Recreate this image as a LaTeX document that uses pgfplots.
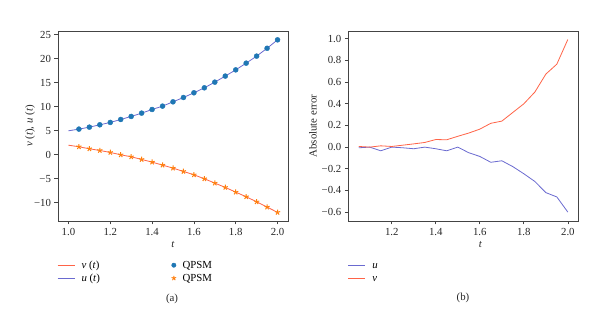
\documentclass[border=0pt]{standalone}
\usepackage{pgfplots}
\pgfplotsset{compat=1.18}
\usepackage{fontspec}
\setmainfont{Liberation Serif}
\definecolor{ublue}{HTML}{6A6AD0}
\definecolor{vred}{HTML}{FF6347}
\definecolor{mblue}{HTML}{1F77B4}
\definecolor{morange}{HTML}{FF7F0E}
\definecolor{axgray}{HTML}{444444}

\pgfplotstableread{
t u v
1.00 5.00 2.00
1.05 5.35 1.67
1.10 5.76 1.25
1.15 6.25 0.90
1.20 6.74 0.49
1.25 7.36 0.00
1.30 7.99 -0.42
1.35 8.68 -0.97
1.40 9.44 -1.53
1.45 10.14 -2.15
1.50 11.04 -2.78
1.55 11.94 -3.47
1.60 12.92 -4.17
1.65 13.96 -5.00
1.70 15.14 -5.90
1.75 16.40 -6.80
1.80 17.70 -7.78
1.85 19.10 -8.75
1.90 20.56 -9.80
1.95 22.20 -10.90
2.00 23.96 -12.00
}\soltable

\pgfplotstableread{
t eu ev
1.05 -0.006 0.006
1.10 0.000 0.000
1.15 -0.034 0.012
1.20 0.000 0.006
1.25 -0.006 0.018
1.30 -0.015 0.030
1.35 0.000 0.043
1.40 -0.015 0.070
1.45 -0.034 0.068
1.50 0.000 0.100
1.55 -0.052 0.130
1.60 -0.086 0.166
1.65 -0.140 0.220
1.70 -0.126 0.240
1.75 -0.180 0.320
1.80 -0.246 0.400
1.85 -0.317 0.508
1.90 -0.420 0.674
1.95 -0.460 0.766
2.00 -0.600 0.994
}\errtable

\newcommand\fsz{\fontsize{10.8}{12.5}\selectfont}
\newcommand\lstrut{\vphantom{(}}
\pgfplotsset{
  shortline/.style={legend image code/.code={\draw[##1, line width=1pt] (0pt,0pt) -- (17pt,0pt);}},
  shortmark/.style={legend image code/.code={\draw[##1] plot coordinates {(4pt,0pt)};}},
  base/.style={
    scale only axis, width=230pt, height=190pt, anchor=south west,
    axis line style={draw=axgray, line width=0.8pt},
    tick style={draw=axgray, line width=0.7pt},
    tick align=outside, xtick pos=bottom, ytick pos=left,
    major tick length=3.5pt,
    tick label style={font=\fsz, text=black!85},
    label style={font=\fsz, text=black!85},
    /pgf/number format/assume math mode=true,
    legend style={draw=none, fill=none, inner sep=0pt,
      font=\fsz,
      row sep=1pt,
      nodes={inner sep=1.5pt},
      /tikz/every odd column/.append style={column sep=5pt}},
    legend cell align=left,
    xtick={1.0,1.2,1.4,1.6,1.8,2.0},
    xticklabels={1.0,1.2,1.4,1.6,1.8,2.0},
  },
}

\begin{document}
\begin{tikzpicture}
\path[use as bounding box] (0pt,0pt) rectangle (600pt,324pt);

% (a)
\begin{axis}[base, at={(58pt,103pt)},
  xmin=0.95, xmax=2.05, ymin=-13.8, ymax=25.8,
  ytick={-10,-5,0,5,10,15,20,25},
  yticklabels={−10,−5,0,5,10,15,20,25},
  xlabel={\textit{t}},
  xlabel style={at={(axis description cs:0.5,-0.126)}, anchor=center},
  ylabel={\textit{v} (\textit{t}), \textit{u} (\textit{t})},
  ylabel style={at={(axis description cs:-0.122,0.5)}, anchor=center},
  legend columns=2, transpose legend,
  legend style={at={(axis description cs:-0.005,-0.2)}, anchor=north west,
    /tikz/every even column/.append style={column sep=70pt}},
]
\addplot[ublue, line width=0.8pt, forget plot] table[x=t,y=u] {\soltable};
\addplot[vred, line width=0.8pt, forget plot] table[x=t,y=v] {\soltable};
\addplot[only marks, mark=*, mark size=2.5pt, color=mblue, forget plot]
  table[x=t,y=u, skip coords between index={0}{1}] {\soltable};
\addplot[only marks, mark=star, mark size=2.7pt, color=morange, line width=1pt, forget plot]
  table[x=t,y=v, skip coords between index={0}{1}] {\soltable};
\addlegendimage{color=vred, shortline}
\addlegendentry{\textit{v} (\textit{t})}
\addlegendimage{color=ublue, shortline}
\addlegendentry{\textit{u} (\textit{t})}
\addlegendimage{only marks, mark=*, mark size=2.2pt, color=mblue, shortmark}
\addlegendentry{QPSM\lstrut}
\addlegendimage{only marks, mark=star, mark size=2.4pt, color=morange, line width=0.9pt, shortmark}
\addlegendentry{QPSM\lstrut}
\end{axis}

% (b)
\begin{axis}[base, at={(348.3pt,103pt)},
  xmin=1.0025, xmax=2.0475, ymin=-0.682, ymax=1.072,
  ytick={-0.6,-0.4,-0.2,0,0.2,0.4,0.6,0.8,1.0},
  yticklabels={−0.6,−0.4,−0.2,0.0,0.2,0.4,0.6,0.8,1.0},
  xlabel={\textit{t}},
  xlabel style={at={(axis description cs:0.575,-0.126)}, anchor=center},
  ylabel={Absolute error},
  ylabel style={at={(axis description cs:-0.154,0.5)}, anchor=center},
  legend style={at={(axis description cs:-0.003,-0.2)}, anchor=north west},
]
\addplot[ublue, line width=0.8pt, shortline] table[x=t,y=eu] {\errtable};
\addlegendentry{\textit{u}\lstrut}
\addplot[vred, line width=0.8pt, shortline] table[x=t,y=ev] {\errtable};
\addlegendentry{\textit{v}\lstrut}
\node[anchor=south west, inner sep=0pt, font=\fsz, text=black!85]
  at (rel axis cs:0,1) [yshift=1.5pt] {1e − 13};
\end{axis}

\node[font=\fsz, text=black!85] at (172pt,25pt) {(a)};
\node[font=\fsz, text=black!85] at (463pt,26pt) {(b)};
\end{tikzpicture}
\end{document}
